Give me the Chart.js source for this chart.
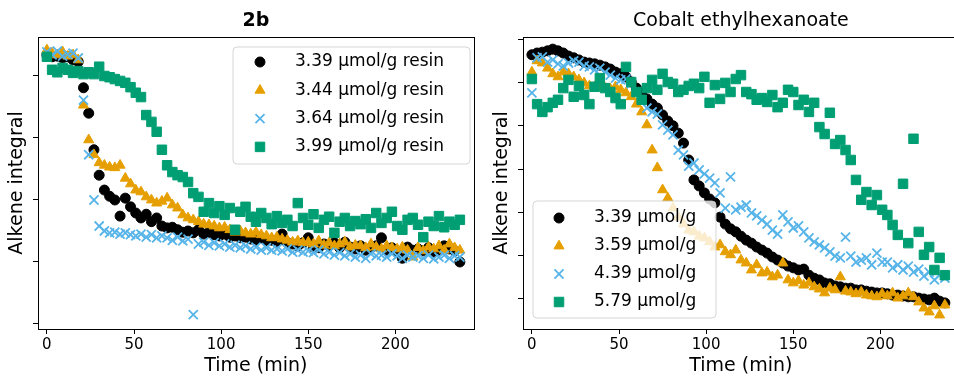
<!DOCTYPE html>
<html>
<head>
<meta charset="utf-8">
<script src="https://cdn.jsdelivr.net/npm/chart.js@4.4.1/dist/chart.umd.min.js"></script>
<style>
html, body { margin: 0; padding: 0; background: #fff; overflow: hidden; }
body { width: 954px; height: 377px; position: relative; }
.panel { position: absolute; top: 0; width: 482px; height: 377px; }
</style>
</head>
<body>
<div class="panel" style="left:0"><canvas id="chart_2b" width="482" height="377"></canvas></div>
<div class="panel" style="left:485px"><canvas id="chart_cobalt" width="482" height="377"></canvas></div>
<script>
// sample times (min), shared by both panels
const times = [0,3,6,9,12,15,18,21,24,27,30,33,36,39,42,45,48,51,54,57,
    60,63,66,69,72,75,78,81,84,87,90,93,96,99,102,105,108,111,114,117,
    120,123,126,129,132,135,138,141,144,147,150,153,156,159,162,165,168,171,174,177,
    180,183,186,189,192,195,198,201,204,207,210,213,216,219,222,225,228,231,234,237];

// tick positions
const xTicks = [0, 50, 100, 150, 200];
const yTicksLeft = [0, 10, 20, 30, 40];
const yTicksRight = [0, 10, 20, 30, 40, 50, 60];

// left panel: 2b (alkene integral, arbitrary units)
const resin339 = [43.4,43.1,43.2,42.9,43.1,42.6,42.3,38.1,34.0,28.1,
    24.0,21.6,20.6,20.0,17.4,20.3,18.9,17.9,17.1,17.7,
    16.5,17.1,15.8,15.5,15.6,15.2,14.8,15.0,14.7,15.2,
    14.5,14.8,14.4,14.2,14.5,14.0,14.2,13.9,14.0,13.7,
    13.5,13.9,13.4,13.5,13.2,14.5,13.1,12.9,12.6,13.1,
    13.9,12.4,12.3,12.9,12.6,13.1,12.3,13.2,12.4,12.1,
    12.6,11.9,12.3,12.6,13.9,11.9,12.3,11.6,10.6,12.4,
    11.9,12.1,11.8,12.3,11.6,11.9,12.6,12.1,11.8,10.0];
const resin344 = [44.2,43.7,43.4,43.9,43.2,43.4,42.6,35.3,29.7,27.3,
    26.0,25.6,25.3,25.2,25.6,23.5,22.6,21.6,21.3,20.5,
    20.0,19.5,19.8,20.3,19.2,18.7,17.6,17.1,16.8,16.5,
    16.1,16.0,15.8,15.5,15.6,15.2,14.8,15.0,14.7,14.5,
    14.8,14.4,14.2,13.9,14.0,13.7,13.5,13.2,13.4,13.1,
    13.2,12.9,13.4,12.7,13.1,12.6,12.9,13.2,12.4,12.7,
    12.6,12.3,12.9,12.4,12.1,12.6,12.3,12.1,12.4,11.9,
    10.8,12.3,11.8,12.4,12.1,12.6,11.9,12.9,12.3,11.9];
const resin364 = [43.9,43.4,44.0,43.2,43.5,43.7,42.9,36.1,27.3,20.0,
    15.8,15.0,14.7,14.8,14.5,14.7,14.4,14.2,14.5,14.0,
    14.4,13.9,14.2,13.9,13.5,14.0,13.4,13.7,1.5,12.9,
    13.2,12.7,13.1,12.6,12.9,12.4,12.7,12.3,12.6,12.1,
    12.4,11.9,12.3,11.9,12.1,11.8,12.1,11.6,11.9,11.6,
    11.8,11.5,11.9,11.3,11.6,11.1,11.5,11.0,11.3,10.8,
    11.1,10.6,11.3,11.0,11.1,10.8,11.3,11.0,10.6,11.1,
    10.8,11.0,10.6,11.1,10.5,10.8,11.1,10.6,11.0,10.8];
const resin399 = [43.1,41.0,40.6,41.3,41.0,40.5,40.8,40.3,40.6,40.3,
    41.5,40.0,39.8,39.5,39.2,38.9,38.2,37.3,36.6,33.7,
    32.6,31.0,28.1,25.6,24.5,24.0,23.7,22.9,21.1,20.5,
    18.1,19.5,17.9,19.0,17.6,18.7,15.2,18.1,18.9,17.3,
    16.5,17.9,17.1,16.1,17.4,16.3,16.8,15.8,19.5,17.1,
    16.0,17.7,15.5,16.8,17.3,14.7,16.5,17.1,15.8,16.6,
    16.1,16.9,15.5,17.9,16.3,17.1,18.1,15.8,15.2,16.8,
    17.1,16.0,14.0,16.5,15.8,17.4,15.6,16.5,16.0,16.8];

// right panel: cobalt ethylhexanoate
const co339 = [56.4,56.8,57.0,57.3,57.7,57.3,56.8,56.1,55.7,55.2,
    54.7,54.5,54.3,54.0,53.6,53.1,52.4,52.0,51.3,50.1,
    48.7,47.6,46.2,45.0,44.1,42.5,41.1,40.0,38.3,36.0,
    32.1,27.5,26.1,24.5,23.1,22.2,18.9,17.3,16.2,15.5,
    14.5,13.6,12.9,12.0,11.3,10.6,9.7,9.0,8.3,7.6,
    7.2,6.7,6.9,5.5,4.8,4.4,3.7,3.5,3.0,2.8,
    2.5,2.5,2.1,2.1,1.8,1.6,1.4,1.4,1.2,0.9,
    0.9,0.7,0.5,0.5,0.2,0.0,-0.2,0.2,-0.5,-0.9];
const co359 = [52.4,55.0,54.5,53.3,52.0,51.3,52.4,52.0,51.3,50.6,
    49.9,49.2,49.0,48.7,48.7,48.5,49.0,48.3,47.6,46.7,
    45.0,43.2,40.2,34.4,30.3,25.2,23.3,21.0,18.9,17.3,
    15.9,15.5,14.5,14.1,13.2,12.0,12.5,10.9,10.2,11.3,
    9.0,8.3,6.7,7.9,6.0,6.2,5.1,5.5,8.3,4.4,
    3.7,4.2,3.2,3.7,2.8,2.3,1.4,2.5,2.1,5.1,
    1.8,1.6,1.2,1.6,0.9,0.7,0.5,1.2,0.7,1.4,
    0.2,0.7,1.4,0.5,-0.7,-2.1,-3.0,-1.6,-3.7,-1.4];
const co439 = [47.6,55.7,55.9,54.7,55.2,54.3,53.8,54.5,55.0,54.7,
    53.8,53.6,52.9,53.3,52.4,51.7,51.0,50.6,50.8,49.7,
    47.8,46.0,44.1,43.2,42.7,40.2,39.0,37.9,34.4,33.3,
    30.7,31.4,29.8,28.9,27.9,26.8,24.5,21.0,28.2,20.6,
    21.2,21.7,19.9,19.2,18.2,17.3,15.9,15.0,19.4,17.8,
    16.4,16.9,15.5,14.1,13.2,12.5,11.8,10.9,9.9,9.5,
    14.3,9.9,8.5,9.0,9.5,7.9,10.6,8.5,8.5,7.2,
    7.9,6.7,7.6,6.2,6.9,5.3,6.2,4.4,5.5,4.8];
const co579 = [50.8,45.0,43.2,44.3,45.3,46.0,48.7,50.6,46.7,49.2,
    47.1,45.0,49.0,51.0,48.7,47.8,46.4,45.0,53.6,50.1,
    47.8,46.0,48.7,50.6,48.3,52.0,50.1,49.7,47.8,48.3,
    49.2,49.7,48.7,51.3,45.3,49.4,46.2,49.9,47.8,50.8,
    51.7,47.8,47.3,46.0,46.4,45.5,47.1,44.3,45.3,48.3,
    47.8,44.8,46.0,43.2,45.3,39.7,38.1,43.0,35.8,36.7,
    34.4,32.1,27.5,22.9,24.7,21.7,24.0,20.6,19.4,17.1,
    14.8,26.6,12.9,37.0,15.5,10.2,12.0,6.7,9.5,5.5];

const FONT = 'DejaVu Sans';
Chart.defaults.font.family = FONT;
Chart.defaults.color = '#000';

const points = (vals) => times.map((t, i) => ({ x: t, y: vals[i] }));

// marker styles for the four series, in legend order
const styles = [
    { pointStyle: 'circle', pointRadius: 5, backgroundColor: '#000000', borderColor: '#000000', borderWidth: 1, order: 4 },
    { pointStyle: 'triangle', pointRadius: 5.8, backgroundColor: '#E69F00', borderColor: '#E69F00', borderWidth: 1, order: 3 },
    { pointStyle: 'crossRot', pointRadius: 6.4, backgroundColor: '#56B4E9', borderColor: '#56B4E9', borderWidth: 1.8, order: 2 },
    { pointStyle: 'rect', pointRadius: 6.7, backgroundColor: '#009E73', borderColor: '#009E73', borderWidth: 1, order: 1 },
];

const make_datasets = (labels, series) => series.map((vals, i) => ({
    label: labels[i],
    data: points(vals),
    ...styles[i],
}));

// black frame round the plot area (all four spines)
const frame = {
    id: 'frame',
    afterDatasetsDraw(chart) {
        const { ctx, chartArea: a } = chart;
        ctx.save();
        ctx.strokeStyle = '#000';
        ctx.lineWidth = 1;
        ctx.strokeRect(Math.round(a.left) + 0.5, Math.round(a.top) + 0.5,
            Math.round(a.right - a.left), Math.round(a.bottom - a.top));
        ctx.restore();
    }
};

// matplotlib-like legend box inside the axes
const boxLegend = {
    id: 'boxLegend',
    afterDraw(chart, args, opts) {
        const { ctx } = chart;
        const { left, top, width, height } = opts;
        const r = 4;
        ctx.save();
        ctx.beginPath();
        ctx.moveTo(left + r, top);
        ctx.lineTo(left + width - r, top);
        ctx.arcTo(left + width, top, left + width, top + r, r);
        ctx.lineTo(left + width, top + height - r);
        ctx.arcTo(left + width, top + height, left + width - r, top + height, r);
        ctx.lineTo(left + r, top + height);
        ctx.arcTo(left, top + height, left, top + height - r, r);
        ctx.lineTo(left, top + r);
        ctx.arcTo(left, top, left + r, top, r);
        ctx.closePath();
        ctx.fillStyle = 'rgba(255,255,255,0.8)';
        ctx.fill();
        ctx.strokeStyle = 'rgba(204,204,204,0.8)';
        ctx.lineWidth = 1;
        ctx.stroke();
        chart.data.datasets.forEach((ds, i) => {
            const y = top + opts.firstRow + i * opts.rowGap;
            ctx.fillStyle = ds.backgroundColor;
            ctx.strokeStyle = ds.borderColor;
            ctx.lineWidth = ds.borderWidth;
            Chart.helpers.drawPoint(ctx, {
                pointStyle: ds.pointStyle, radius: ds.pointRadius, rotation: 0, borderWidth: ds.borderWidth
            }, left + opts.markerX, y);
            ctx.fillStyle = '#000';
            ctx.font = '17px "' + FONT + '"';
            ctx.textAlign = 'left';
            ctx.textBaseline = 'middle';
            ctx.fillText(ds.label, left + opts.textX, y);
        });
        ctx.restore();
    }
};

const make_options = (title, bold, ymin, ymax, yTicks, legend) => ({
    responsive: false,
    animation: false,
    layout: { padding: { right: 3 } },
    plugins: {
        legend: { display: false },
        tooltip: { enabled: false },
        title: {
            display: true,
            text: title,
            fullSize: false,
            color: '#000',
            font: { size: 19, weight: bold ? 'bold' : 'normal' },
            padding: { top: 10, bottom: 4.2 },
        },
        boxLegend: legend,
    },
    scales: {
        x: {
            type: 'linear',
            min: -5.1,
            max: 245,
            ticks: { maxRotation: 0, padding: 2, font: { size: 15 }, color: '#000' },
            grid: { drawOnChartArea: false, tickLength: 5, color: '#000' },
            border: { display: false },
            title: { display: true, text: 'Time (min)', color: '#000', font: { size: 19 }, padding: { top: 0, bottom: 0 } },
            afterBuildTicks: (scale) => { scale.ticks = xTicks.map((v) => ({ value: v })); },
            afterFit: (scale) => { scale.height = 48; },
        },
        y: {
            type: 'linear',
            min: ymin,
            max: ymax,
            ticks: { display: false },
            grid: { drawOnChartArea: false, tickLength: 5, color: '#000' },
            border: { display: false },
            title: { display: true, text: 'Alkene integral', color: '#000', font: { size: 19 }, padding: { top: 6, bottom: 0 } },
            afterBuildTicks: (scale) => { scale.ticks = yTicks.map((v) => ({ value: v })); },
            afterFit: (scale) => { scale.width = 38; },
        },
    },
});

new Chart(document.getElementById('chart_2b'), {
    type: 'scatter',
    data: {
        datasets: make_datasets(
            ['3.39 μmol/g resin', '3.44 μmol/g resin', '3.64 μmol/g resin', '3.99 μmol/g resin'],
            [resin339, resin344, resin364, resin399]),
    },
    options: make_options('2b', true, -0.81, 46.29, yTicksLeft,
        { left: 233, top: 47, width: 237, height: 117, markerX: 27, textX: 62, firstRow: 15, rowGap: 28.3 }),
    plugins: [frame, boxLegend],
});

new Chart(document.getElementById('chart_cobalt'), {
    type: 'scatter',
    data: {
        datasets: make_datasets(
            ['3.39 μmol/g', '3.59 μmol/g', '4.39 μmol/g', '5.79 μmol/g'],
            [co339, co359, co439, co579]),
    },
    options: make_options('Cobalt ethylhexanoate', false, -6.93, 60.5, yTicksRight,
        { left: 48, top: 201, width: 183, height: 117, markerX: 26, textX: 61, firstRow: 17, rowGap: 28 }),
    plugins: [frame, boxLegend],
});
</script>
</body>
</html>
